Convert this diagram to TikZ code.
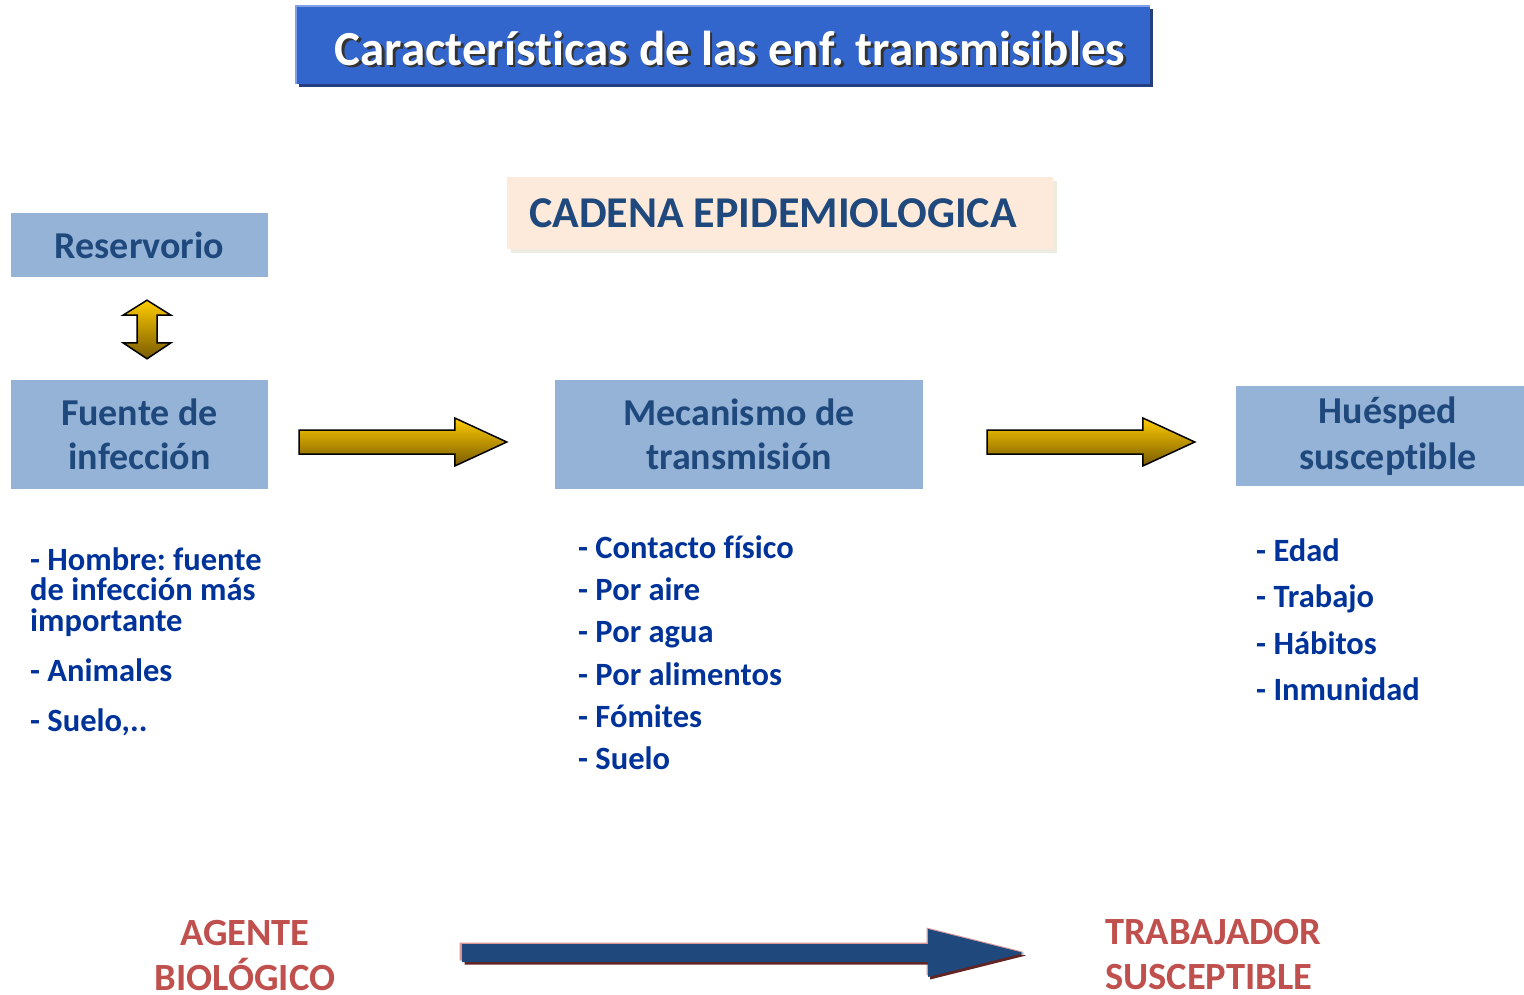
\documentclass[tikz,border=0pt]{standalone}
\usepackage{fontspec}
\setmainfont{Carlito}[Ligatures=NoCommon]
\frenchspacing
\usetikzlibrary{calc}
\definecolor{titleblue}{RGB}{51,102,204}
\definecolor{titledark}{RGB}{36,62,128}
\definecolor{titleedge}{RGB}{130,160,230}
\definecolor{boxblue}{RGB}{149,179,215}
\definecolor{boxtext}{RGB}{31,73,125}
\definecolor{cadfill}{RGB}{253,234,218}
\definecolor{cadshadow}{RGB}{238,236,225}
\definecolor{listblue}{RGB}{0,51,153}
\definecolor{redtext}{RGB}{192,80,77}
\definecolor{arrownavy}{RGB}{31,73,125}
\definecolor{arrowpink}{RGB}{217,150,148}
\definecolor{arrowdark}{RGB}{99,37,35}
\definecolor{goldtop}{RGB}{255,204,0}
\definecolor{goldbottom}{RGB}{120,90,0}
\newcommand{\GoldArrow}[2]{%
($(#1)+(0,-12)$) -- ($(#2)+(-52,-12)$) -- %
($(#2)+(-52,-24)$) -- (#2) -- ($(#2)+(-52,24)$) -- %
($(#2)+(-52,12)$) -- ($(#1)+(0,12)$) -- cycle %
}
\newcommand{\DoubleGold}[2]{%
(#1) -- ($(#1)+(24,15)$) -- ($(#1)+(10,15)$) -- %
($(#2)+(10,-16)$) -- ($(#2)+(24,-16)$) -- (#2) -- %
($(#2)+(-24,-16)$) -- ($(#2)+(-10,-16)$) -- %
($(#1)+(-10,15)$) -- ($(#1)+(-24,15)$) -- cycle %
}
\newcommand{\NavyArrow}[2]{%
($(#1)+(0,-9)$) -- ($(#2)+(-96,-9)$) -- %
($(#2)+(-96,-24)$) -- (#2) -- ($(#2)+(-96,24)$) -- %
($(#2)+(-96,9)$) -- ($(#1)+(0,9)$) -- cycle %
}
\tikzset{
  boxlabel/.style={fill=boxblue, text=boxtext, align=center, inner sep=0pt,
    font=\fontsize{38}{44}\selectfont\bfseries},
  listline/.style={text=listblue, anchor=base west, inner sep=0pt,
    font=\fontsize{32.5}{30}\selectfont\bfseries},
  redlabel/.style={text=redtext, inner sep=0pt,
    font=\fontsize{38.5}{45}\selectfont\bfseries},
  goldfill/.style={top color=goldtop, bottom color=goldbottom, draw=black, line width=1.5pt}
}
\begin{document}
\begin{tikzpicture}[x=1pt,y=-1pt]
  \useasboundingbox (0,0) rectangle (1524,994);
  % title
  \fill[titledark] (299,9) rectangle (1153,87);
  \fill[titleblue] (296,6) rectangle (1150,84);
  \draw[titleedge, line width=1.5pt] (296,84) -- (296,6) -- (1150,6);
  \node[text=black!80, font=\fontsize{49}{55}\selectfont\bfseries] (titleshadow) at (732.5,50.5) {Características de las enf. transmisibles};
  \node[text=white, font=\fontsize{49}{55}\selectfont\bfseries] (title) at (730,48) {Características de las enf. transmisibles};
  % cadena
  \fill[cadshadow] (511,181) rectangle (1057,253);
  \node[fill=cadfill, minimum width=546pt, minimum height=72pt, inner sep=0pt,
    text=boxtext, font=\fontsize{44}{50}\selectfont\bfseries] (cadena) at (780,213) {CADENA EPIDEMIOLOGICA\hspace*{14pt}};
  % boxes
  \node[boxlabel, minimum width=257pt, minimum height=64pt] (reservorio) at (139.5,245) {Reservorio};
  \node[boxlabel, minimum width=257pt, minimum height=109pt] (fuente) at (139.5,434.5) {Fuente de\\infección};
  \node[boxlabel, minimum width=368pt, minimum height=109pt] (mecanismo) at (739,434.5) {Mecanismo de\\transmisión};
  \node[boxlabel, minimum width=304pt, minimum height=100pt, font=\fontsize{38}{46}\selectfont\bfseries] (huesped) at (1388,436) {Huésped\\[0pt]susceptible\rule[-6pt]{0pt}{1pt}};
  % arrows
  \shade[goldfill] \DoubleGold{$(reservorio.south)+(7.5,23)$}{$(fuente.north)+(7.5,-21)$};
  \shade[goldfill] \GoldArrow{$(fuente.east)+(31,7.5)$}{$(mecanismo.west)+(-48,7.5)$};
  \shade[goldfill] \GoldArrow{$(mecanismo.east)+(64,7.5)$}{$(huesped.west)+(-41,6)$};
  % lists
  \node[listline] (fu1) at (30,570) {- Hombre: fuente};
  \node[listline] (fu2) at (30,600) {de infección más};
  \node[listline] (fu3) at (30,631) {importante};
  \node[listline] (fu4) at (30,681) {- Animales};
  \node[listline] (fu5) at (30,731) {- Suelo,..};
  \node[listline] (me1) at (578,558) {- Contacto físico};
  \node[listline] (me2) at (578,600) {- Por aire};
  \node[listline] (me3) at (578,642) {- Por agua};
  \node[listline] (me4) at (578,685) {- Por alimentos};
  \node[listline] (me5) at (578,727) {- Fómites};
  \node[listline] (me6) at (578,769) {- Suelo};
  \node[listline] (hu1) at (1256,561) {- Edad};
  \node[listline] (hu2) at (1256,607) {- Trabajo};
  \node[listline] (hu3) at (1256,654) {- Hábitos};
  \node[listline] (hu4) at (1256,700) {- Inmunidad};
  % bottom
  \node[redlabel, align=center] (agente) at (245,955) {AGENTE\\BIOLÓGICO};
  \node[redlabel, align=left, anchor=west] (trabajador) at (1105,955) {TRABAJADOR\\SUSCEPTIBLE};
  \fill[arrowpink] \NavyArrow{$(agente.center)+(214.5,-3.5)$}{$(trabajador.west)+(-82.5,-3.5)$};
  \fill[arrowdark] \NavyArrow{$(agente.center)+(219.5,0.5)$}{$(trabajador.west)+(-79,0.5)$};
  \fill[arrownavy] \NavyArrow{$(agente.center)+(217,-2)$}{$(trabajador.west)+(-81,-2)$};
\end{tikzpicture}
\end{document}
